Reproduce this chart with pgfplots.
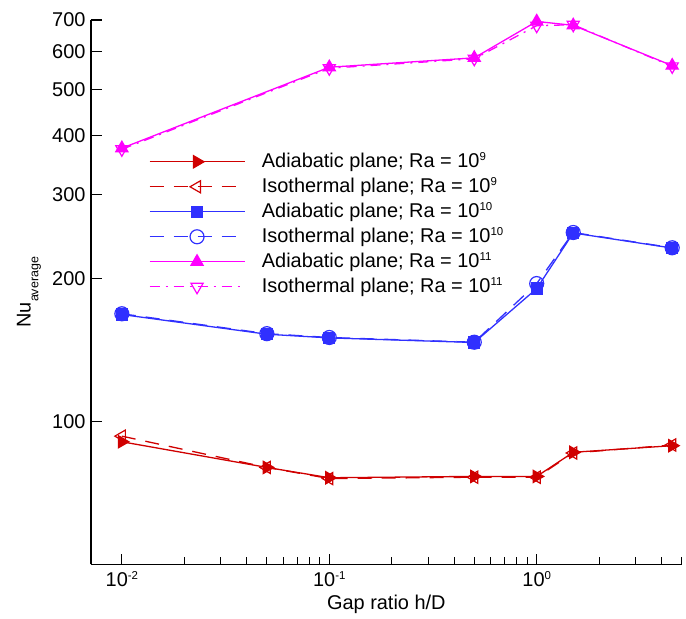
\documentclass[border=0pt]{standalone}
\usepackage{fontspec}
\setmainfont{Liberation Sans}
\usepackage{pgfplots}
\pgfplotsset{compat=1.18}
\definecolor{cred}{RGB}{208,0,0}
\definecolor{cblue}{RGB}{48,48,255}
\definecolor{cmag}{RGB}{255,0,255}
\newcommand\sups[1]{\raisebox{7bp}{\fontsize{11.5}{12}\selectfont #1}}
\begin{document}
\begin{tikzpicture}[font=\fontsize{20}{24}\selectfont]
\begin{loglogaxis}[name=ax,
  scale only axis, width=590.7bp, height=544.4bp,
  xmin=0.0071, xmax=5, ymin=50, ymax=700,
  axis x line*=bottom, axis y line*=left,
  axis line style={-, line width=1.4bp, black},
  tick align=inside,
  major tick length=10.7bp, minor tick length=7bp,
  every tick/.style={black, line width=1.2bp},
  xtick={0.01,0.1,1},
  xticklabels={10\sups{-2},10\sups{-1},10\sups{0}},
  minor xtick={0.02,0.03,0.04,0.05,0.06,0.07,0.08,0.09,0.2,0.3,0.4,0.5,0.6,0.7,0.8,0.9,2,3,4,5},
  ytick={100,200,300,400,500,600,700},
  yticklabels={100,200,300,400,500,600,700},
  xticklabel style={anchor=base, yshift=-22.3bp},
  yticklabel style={xshift=-2bp},
  xlabel={Gap ratio h/D},
  xlabel style={at={(axis description cs:0.5,-0.0825)}, anchor=base},
  ylabel={Nu\raisebox{-7.8bp}{\fontsize{12.5}{13}\selectfont average}},
  ylabel style={at={(axis description cs:-0.1024,0.5)}, anchor=base, rotate=0},
  clip=false,
  reverse legend,
  legend cell align=left,
  legend image code/.code={\draw[mark repeat=2,mark phase=2] plot coordinates {(0bp,0bp) (47.5bp,0bp) (95bp,0bp)};},
  legend style={at={(axis description cs:0.098,0.757)}, anchor=north west, draw=none, fill=none,
    inner sep=0pt, outer sep=0pt, row sep=6bp, column sep=0pt,
    nodes={inner ysep=0pt, inner xsep=16.7bp, text height=15bp, text depth=4bp}},
]
% magenta
\addplot[cmag, line width=1.3bp, dash pattern=on 10bp off 6bp on 2bp off 6bp, mark=triangle, mark size=7bp,
  mark options={solid, rotate=180, fill=white, line width=1.2bp}] coordinates {
  (0.01,374) (0.1,554) (0.5,580) (1,681) (1.5,684) (4.5,559)};
\addlegendentry{Isothermal plane; Ra = 10\sups{11}}
\addplot[cmag, line width=1.3bp, mark=triangle*, mark size=7bp,
  mark options={solid, line width=1.2bp}] coordinates {
  (0.01,376) (0.1,556.7) (0.5,582.6) (1,695) (1.5,682) (4.5,561)};
\addlegendentry{Adiabatic plane; Ra = 10\sups{11}}
% blue
\addplot[cblue, line width=1.3bp, dash pattern=on 14bp off 10bp, mark=o, mark size=7bp,
  mark options={solid, fill=white, line width=1.2bp}] coordinates {
  (0.01,168.5) (0.05,153) (0.1,150.2) (0.5,146.8) (1,195.1) (1.5,249.8) (4.5,232)};
\addlegendentry{Isothermal plane; Ra = 10\sups{10}}
\addplot[cblue, line width=1.3bp, mark=square*, mark size=5.6bp,
  mark options={solid, line width=1.2bp}] coordinates {
  (0.01,167.9) (0.05,152.6) (0.1,149.9) (0.5,146.6) (1,190.4) (1.5,249.3) (4.5,231.7)};
\addlegendentry{Adiabatic plane; Ra = 10\sups{10}}
% red
\addplot[cred, line width=1.3bp, dash pattern=on 14bp off 10bp, mark=triangle, mark size=7bp,
  mark options={solid, rotate=90, fill=white, line width=1.2bp}] coordinates {
  (0.01,93.1) (0.05,80.0) (0.1,75.8) (0.5,76.3) (1,76.3) (1.5,85.8) (4.5,89.2)};
\addlegendentry{Isothermal plane; Ra = 10\sups{9}}
\addplot[cred, line width=1.3bp, mark=triangle*, mark size=7bp,
  mark options={solid, rotate=-90, line width=1.2bp}] coordinates {
  (0.01,90.6) (0.05,80.0) (0.1,76.1) (0.5,76.6) (1,76.6) (1.5,86.1) (4.5,88.9)};
\addlegendentry{Adiabatic plane; Ra = 10\sups{9}}
\end{loglogaxis}
\path ([xshift=-91bp,yshift=-54.6bp]ax.south west) rectangle ([xshift=4.3bp,yshift=20bp]ax.north east);
\end{tikzpicture}
\end{document}
